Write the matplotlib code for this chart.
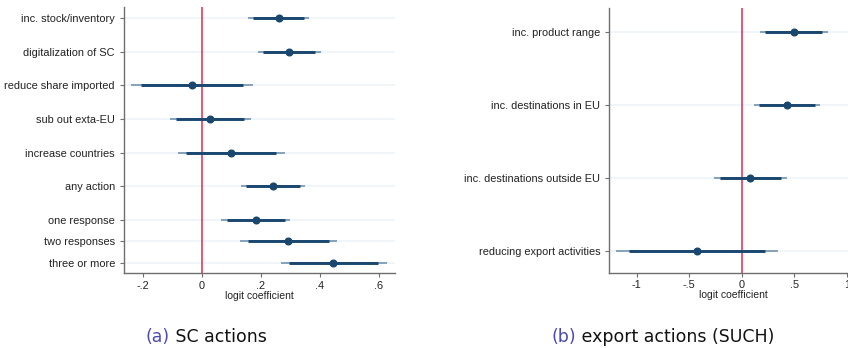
import matplotlib
matplotlib.use("Agg")
import matplotlib.pyplot as plt

plt.rcParams['font.family'] = ['Liberation Sans', 'DejaVu Sans']

# --- (a) supply-chain actions ---
sc_labels = ["inc. stock/inventory", "digitalization of SC", "reduce share imported",
             "sub out exta-EU", "increase countries", "any action",
             "one response", "two responses", "three or more"]
sc_coef = [0.262, 0.297, -0.034, 0.028, 0.099, 0.241, 0.183, 0.294, 0.446]
sc_lo95 = [0.158, 0.192, -0.240, -0.107, -0.081, 0.132, 0.065, 0.130, 0.269]
sc_hi95 = [0.365, 0.403, 0.173, 0.166, 0.282, 0.350, 0.299, 0.457, 0.627]
sc_lo90 = [0.175, 0.209, -0.206, -0.087, -0.053, 0.150, 0.087, 0.156, 0.296]
sc_hi90 = [0.347, 0.384, 0.139, 0.144, 0.252, 0.333, 0.282, 0.433, 0.599]
sc_ticks = [-0.2, 0, 0.2, 0.4, 0.6]
sc_ticklabels = ["-.2", "0", ".2", ".4", ".6"]

# --- (b) export actions ---
ex_labels = ["inc. product range", "inc. destinations in EU",
             "inc. destinations outside EU", "reducing export activities"]
ex_coef = [0.498, 0.428, 0.079, -0.429]
ex_lo95 = [0.174, 0.120, -0.264, -1.197]
ex_hi95 = [0.819, 0.746, 0.428, 0.343]
ex_lo90 = [0.222, 0.168, -0.207, -1.073]
ex_hi90 = [0.768, 0.698, 0.371, 0.222]
ex_ticks = [-1, -0.5, 0, 0.5, 1]
ex_ticklabels = ["-1", "-.5", "0", ".5", "1"]

# row layout (coefplot groups leave extra gaps)
sc_rows = [0, 1, 2, 3, 4, 5, 6, 6.64, 7.29]
ex_rows = [0, 1, 2, 3]

NAVY = "#1a476f"
THIN = "#86a2bb"
RED = "#e0284f"
SPINE = "#6e6e6e"
GRID = "#eef3f8"

fig = plt.figure(figsize=(8.48, 3.48), dpi=100)


def coefplot(ax, rows, labels, coef, lo95, hi95, lo90, hi90, xlim, ylim, ticks, ticklabels):
    for r in rows:
        ax.axhline(r, color=GRID, lw=1.2, zorder=0)
    ax.axvline(0, color=RED, lw=1.1, zorder=1)
    ax.hlines(rows, lo95, hi95, color=THIN, lw=1.4, zorder=2)
    ax.hlines(rows, lo90, hi90, color=NAVY, lw=2.1, zorder=3)
    ax.plot(coef, rows, 'o', color=NAVY, ms=4.8, zorder=4)
    ax.set_xlim(*xlim)
    ax.set_ylim(*ylim)
    ax.set_yticks(rows)
    ax.set_yticklabels(labels)
    ax.set_xticks(ticks)
    ax.set_xticklabels(ticklabels)
    for s in ("top", "right"):
        ax.spines[s].set_visible(False)
    for s in ("left", "bottom"):
        ax.spines[s].set_color(SPINE)
        ax.spines[s].set_linewidth(1.0)
    ax.tick_params(axis='both', colors=SPINE, labelcolor="#222222", labelsize=7.9,
                   length=3, width=0.8)
    ax.tick_params(axis='x', pad=2.5)
    ax.set_xlabel("logit coefficient", fontsize=7.5, color="#222222", labelpad=0)


ax1 = fig.add_axes([124 / 848, 1 - 273 / 348, 271 / 848, 266 / 348])
coefplot(ax1, sc_rows, sc_labels, sc_coef, sc_lo95, sc_hi95, sc_lo90, sc_hi90,
         (-0.263, 0.655), (7.58, -0.336), sc_ticks, sc_ticklabels)

ax2 = fig.add_axes([609.3 / 848, 1 - 272.7 / 348, 248 / 848, 264.7 / 348])
coefplot(ax2, ex_rows, ex_labels, ex_coef, ex_lo95, ex_hi95, ex_lo90, ex_hi90,
         (-1.261, 1.10), (3.30, -0.325), ex_ticks, ex_ticklabels)

# sub-figure captions: coloured tag followed by black title, centred as a unit
CAP = "#4b4bb3"
CAP_FONT = ['DejaVu Sans']
CAP_Y = 1 - 337 / 348
renderer = fig.canvas.get_renderer()
for xc, tag, title in [(206, "(a)", " SC actions"), (663, "(b)", " export actions (SUCH)")]:
    t1 = fig.text(0, CAP_Y, tag, fontsize=12.5, family=CAP_FONT,
                  ha='left', va='center', color=CAP)
    t2 = fig.text(0, CAP_Y, title, fontsize=12.5, family=CAP_FONT,
                  ha='left', va='center', color="#111111")
    w1 = t1.get_window_extent(renderer).width
    w2 = t2.get_window_extent(renderer).width
    x0 = xc - (w1 + w2) / 2
    t1.set_x(x0 / 848)
    t2.set_x((x0 + w1) / 848)

fig.savefig("out.png", dpi=100)
